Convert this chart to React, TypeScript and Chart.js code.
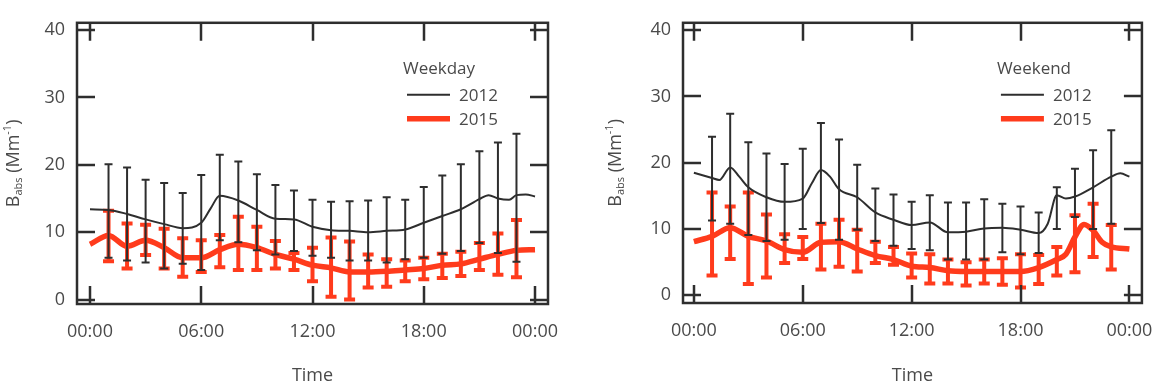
import React, { useEffect, useRef } from "react";
import { Chart, registerables } from "chart.js";

Chart.register(...registerables);

// ---------- shared axis values ----------
const hourTicks = [0, 6, 12, 18, 24];
const hourLabels = ["00:00", "06:00", "12:00", "18:00", "00:00"];
const valueTicks = [0, 10, 20, 30, 40];
const barHours = [1, 2, 3, 4, 5, 6, 7, 8, 9, 10, 11, 12, 13, 14, 15, 16, 17, 18, 19, 20, 21, 22, 23];

// ---------- weekday ----------
const weekdayHours2012 = [0, 1, 2, 3, 4, 5, 6, 6.5, 7, 8, 9, 10, 11, 12, 13, 14, 15, 16, 17, 18, 19, 20, 21, 21.5, 22, 22.6, 23, 23.5, 24];
const weekdayMean2012 = [13.4, 13.3, 12.7, 11.9, 11.2, 10.6, 11.4, 13.5, 15.4, 14.7, 13.3, 12.0, 11.9, 10.8, 10.3, 10.2, 10.0, 10.2, 10.4, 11.4, 12.4, 13.4, 14.9, 15.5, 15.0, 14.8, 15.5, 15.6, 15.3];
const weekdayHigh2012 = [20.1, 19.6, 17.8, 17.3, 15.8, 18.5, 21.5, 20.5, 18.6, 17.0, 16.2, 14.8, 14.5, 14.6, 14.7, 15.2, 14.8, 16.7, 18.4, 20.1, 22.0, 23.3, 24.6];
const weekdayLow2012 = [6.2, 5.8, 5.5, 4.6, 5.3, 4.4, 8.8, 8.5, 7.3, 6.7, 7.2, 6.5, 6.2, 5.8, 5.8, 5.5, 6.0, 6.2, 6.8, 7.2, 8.4, 6.9, 5.6];

const weekdayHours2015 = [0, 1, 2, 3, 4, 5, 6, 7, 8, 9, 10, 11, 12, 13, 14, 15, 16, 17, 18, 19, 20, 21, 22, 23, 24];
const weekdayMean2015 = [8.2, 9.5, 7.9, 8.8, 7.7, 6.2, 6.2, 7.4, 8.2, 7.7, 6.7, 6.0, 5.1, 4.7, 4.1, 4.1, 4.2, 4.4, 4.6, 5.1, 5.3, 6.0, 6.7, 7.3, 7.4];
const weekdayHigh2015 = [13.2, 11.3, 11.1, 10.5, 9.1, 8.8, 9.6, 12.3, 10.8, 8.7, 6.9, 7.7, 9.2, 8.6, 6.7, 6.0, 5.8, 6.2, 6.8, 7.1, 8.4, 9.8, 11.8];
const weekdayLow2015 = [5.7, 4.6, 6.6, 4.6, 3.4, 4.1, 4.8, 4.4, 4.4, 4.6, 4.4, 2.7, 0.4, 0.0, 1.8, 1.9, 2.7, 3.0, 3.2, 3.5, 4.4, 3.7, 3.3];

// ---------- weekend ----------
const weekendHours2012 = [0, 1, 1.4, 2, 2.5, 3, 4, 5, 6, 6.5, 7, 7.5, 8, 9, 10, 11, 12, 13, 14, 15, 16, 17, 18, 19, 19.5, 20, 20.5, 21, 22, 23, 23.5, 24];
const weekendMean2012 = [18.5, 17.7, 17.4, 19.3, 17.9, 16.3, 14.8, 14.1, 14.6, 16.9, 18.9, 17.9, 16.0, 14.8, 12.5, 11.4, 10.6, 11.0, 9.5, 9.6, 10.1, 10.2, 9.9, 9.4, 10.8, 15.1, 14.6, 14.9, 16.3, 17.9, 18.4, 17.9];
const weekendHigh2012 = [23.9, 27.4, 23.1, 21.4, 19.8, 22.1, 26.0, 23.5, 19.7, 16.1, 15.2, 14.1, 15.1, 14.0, 14.0, 14.5, 13.8, 13.4, 12.5, 16.3, 19.1, 21.9, 24.9];
const weekendLow2012 = [11.3, 10.8, 9.1, 8.2, 8.4, 10.0, 10.9, 8.4, 9.9, 8.2, 7.5, 7.0, 6.8, 5.4, 5.4, 5.4, 6.5, 6.2, 6.4, 10.0, 11.8, 10.0, 10.8];

const weekendHours2015 = [0, 1, 2, 3, 4, 5, 6, 7, 8, 9, 10, 11, 12, 13, 14, 15, 16, 17, 18, 19, 20, 20.5, 21, 21.5, 22, 22.5, 23, 24];
const weekendMean2015 = [8.1, 8.9, 10.2, 8.9, 8.2, 6.9, 6.5, 8.0, 8.1, 7.0, 6.0, 5.4, 4.4, 4.2, 3.7, 3.6, 3.6, 3.6, 3.6, 4.2, 5.4, 6.2, 8.8, 10.7, 9.8, 8.0, 7.3, 7.0];
const weekendHigh2015 = [15.5, 13.4, 15.5, 12.2, 9.2, 8.8, 10.8, 11.4, 9.9, 8.1, 7.3, 6.3, 6.2, 5.4, 5.0, 5.4, 5.6, 6.2, 6.1, 7.3, 12.1, 13.8, 10.6];
const weekendLow2015 = [3.0, 5.5, 1.7, 2.7, 4.9, 5.5, 3.9, 4.3, 3.6, 4.9, 4.6, 2.7, 1.8, 1.8, 1.5, 1.8, 1.6, 1.2, 1.7, 3.0, 3.5, 5.8, 3.9];

// ---------- styling ----------
const FONT = "'Open Sans', 'Noto Sans', sans-serif";
const TEXT = "#4a4a4a";
const INK = "#2e2e2e";
const RED = "#ff3b1c";

type Bars = { high: number[]; low: number[]; color: string; width: number; cap: number };

type Panel = {
  title: string;
  hours2012: number[];
  mean2012: number[];
  hours2015: number[];
  mean2015: number[];
  bars2012: Bars;
  bars2015: Bars;
  xMin: number;
  xMax: number;
  yMin: number;
  yMax: number;
  yAxisWidth: number;
  xAxisHeight: number;
  padRight: number;
  padTop: number;
  yTitleX: number;
};

const weekdayPanel: Panel = {
  title: "Weekday",
  hours2012: weekdayHours2012,
  mean2012: weekdayMean2012,
  hours2015: weekdayHours2015,
  mean2015: weekdayMean2015,
  bars2012: { high: weekdayHigh2012, low: weekdayLow2012, color: INK, width: 2, cap: 4 },
  bars2015: { high: weekdayHigh2015, low: weekdayLow2015, color: RED, width: 4, cap: 5.5 },
  xMin: -0.7,
  xMax: 24.7,
  yMin: -0.66,
  yMax: 41.08,
  yAxisWidth: 77,
  xAxisHeight: 86,
  padRight: 37,
  padTop: 7,
  yTitleX: 14,
};

const weekendPanel: Panel = {
  title: "Weekend",
  hours2012: weekendHours2012,
  mean2012: weekendMean2012,
  hours2015: weekendHours2015,
  mean2015: weekendMean2015,
  bars2012: { high: weekendHigh2012, low: weekendLow2012, color: INK, width: 2, cap: 4 },
  bars2015: { high: weekendHigh2015, low: weekendLow2015, color: RED, width: 4, cap: 5.5 },
  xMin: -0.6,
  xMax: 24.69,
  yMin: -1.15,
  yMax: 41.1,
  yAxisWidth: 98,
  xAxisHeight: 87,
  padRight: 24,
  padTop: 7,
  yTitleX: 31,
};

function drawErrorBars(chart: any, bars: Bars) {
  const { ctx, scales } = chart;
  const xs = scales.x;
  const ys = scales.y;
  ctx.save();
  ctx.strokeStyle = bars.color;
  ctx.lineWidth = bars.width;
  ctx.lineCap = "butt";
  barHours.forEach((h, i) => {
    const x = xs.getPixelForValue(h);
    const yHi = ys.getPixelForValue(bars.high[i]);
    const yLo = ys.getPixelForValue(bars.low[i]);
    ctx.beginPath();
    ctx.moveTo(x, yHi);
    ctx.lineTo(x, yLo);
    ctx.moveTo(x - bars.cap, yHi);
    ctx.lineTo(x + bars.cap, yHi);
    ctx.moveTo(x - bars.cap, yLo);
    ctx.lineTo(x + bars.cap, yLo);
    ctx.stroke();
  });
  ctx.restore();
}

const panelDecor = {
  id: "panelDecor",
  afterDatasetDraw(chart: any, args: any) {
    const panel: Panel = chart.options.plugins.panelDecor.panel;
    drawErrorBars(chart, args.index === 0 ? panel.bars2012 : panel.bars2015);
  },
  afterDraw(chart: any) {
    const panel: Panel = chart.options.plugins.panelDecor.panel;
    const { ctx, chartArea, scales } = chart;
    const { left, right, top, bottom } = chartArea;
    const tickLen = 18;

    ctx.save();
    // frame
    ctx.strokeStyle = INK;
    ctx.lineWidth = 2.5;
    ctx.strokeRect(left, top, right - left, bottom - top);

    // inward ticks on all four sides
    ctx.beginPath();
    hourTicks.forEach((h) => {
      const x = Math.round(scales.x.getPixelForValue(h));
      ctx.moveTo(x, bottom);
      ctx.lineTo(x, bottom - tickLen);
      ctx.moveTo(x, top);
      ctx.lineTo(x, top + tickLen);
    });
    valueTicks.forEach((v) => {
      const y = Math.round(scales.y.getPixelForValue(v));
      ctx.moveTo(left, y);
      ctx.lineTo(left + tickLen, y);
      ctx.moveTo(right, y);
      ctx.lineTo(right - tickLen, y);
    });
    ctx.stroke();

    // legend
    ctx.fillStyle = TEXT;
    ctx.textBaseline = "middle";
    ctx.textAlign = "left";
    ctx.font = `17px ${FONT}`;
    ctx.fillText(panel.title, right - 145, top + 46);
    ctx.beginPath();
    ctx.strokeStyle = INK;
    ctx.lineWidth = 2;
    ctx.moveTo(right - 141, top + 72);
    ctx.lineTo(right - 98, top + 72);
    ctx.stroke();
    ctx.beginPath();
    ctx.strokeStyle = RED;
    ctx.lineWidth = 5.5;
    ctx.moveTo(right - 141, top + 96);
    ctx.lineTo(right - 98, top + 96);
    ctx.stroke();
    ctx.fillText(chart.data.datasets[0].label, right - 89, top + 73);
    ctx.fillText(chart.data.datasets[1].label, right - 89, top + 97);

    // y axis title with sub- and superscript
    const parts = [
      { t: "B", size: 18, dy: 0 },
      { t: "abs", size: 11, dy: 5 },
      { t: " (Mm", size: 18, dy: 0 },
      { t: "-1", size: 11, dy: -6 },
      { t: ")", size: 18, dy: 0 },
    ];
    let total = 0;
    parts.forEach((p) => {
      ctx.font = `${p.size}px ${FONT}`;
      total += ctx.measureText(p.t).width;
    });
    ctx.translate(panel.yTitleX, (top + bottom) / 2);
    ctx.rotate(-Math.PI / 2);
    let cx = -total / 2;
    ctx.textAlign = "left";
    ctx.textBaseline = "middle";
    parts.forEach((p) => {
      ctx.font = `${p.size}px ${FONT}`;
      ctx.fillText(p.t, cx, p.dy);
      cx += ctx.measureText(p.t).width;
    });
    ctx.restore();
  },
};

function buildChart(canvas: HTMLCanvasElement, panel: Panel) {
  return new Chart(canvas, {
    type: "line",
    data: {
      datasets: [
        {
          label: "2012",
          data: panel.hours2012.map((h, i) => ({ x: h, y: panel.mean2012[i] })),
          borderColor: INK,
          borderWidth: 2,
          pointRadius: 0,
          cubicInterpolationMode: "monotone",
          fill: false,
        },
        {
          label: "2015",
          data: panel.hours2015.map((h, i) => ({ x: h, y: panel.mean2015[i] })),
          borderColor: RED,
          borderWidth: 5.5,
          pointRadius: 0,
          cubicInterpolationMode: "monotone",
          fill: false,
        },
      ],
    },
    options: {
      animation: false,
      responsive: false,
      events: [],
      layout: { padding: { left: 0, right: panel.padRight, top: panel.padTop, bottom: 0 } },
      plugins: {
        legend: { display: false },
        tooltip: { enabled: false },
        panelDecor: { panel },
      } as any,
      scales: {
        x: {
          type: "linear",
          min: panel.xMin,
          max: panel.xMax,
          afterBuildTicks: (s: any) => {
            s.ticks = hourTicks.map((v) => ({ value: v }));
          },
          afterFit: (s: any) => {
            s.height = panel.xAxisHeight;
          },
          grid: { display: false, drawTicks: false },
          border: { display: false },
          ticks: {
            callback: (_v: any, i: number) => hourLabels[i],
            color: TEXT,
            font: { family: FONT, size: 18 },
            padding: 17,
            maxRotation: 0,
            autoSkip: false,
          },
          title: {
            display: true,
            text: "Time",
            color: TEXT,
            font: { family: FONT, size: 18 },
            padding: { top: 0, bottom: 3 },
          },
        },
        y: {
          type: "linear",
          min: panel.yMin,
          max: panel.yMax,
          afterBuildTicks: (s: any) => {
            s.ticks = valueTicks.map((v) => ({ value: v }));
          },
          afterFit: (s: any) => {
            s.width = panel.yAxisWidth;
          },
          grid: { display: false, drawTicks: false },
          border: { display: false },
          ticks: {
            color: TEXT,
            font: { family: FONT, size: 18 },
            padding: 12,
          },
        },
      },
    } as any,
    plugins: [panelDecor],
  });
}

function PanelChart({ panel, left }: { panel: Panel; left: number }) {
  const ref = useRef<HTMLCanvasElement | null>(null);
  useEffect(() => {
    if (!ref.current) return;
    const chart = buildChart(ref.current, panel);
    return () => chart.destroy();
  }, [panel]);
  return (
    <canvas
      ref={ref}
      width={585}
      height={390}
      style={{ position: "absolute", left, top: 0, width: 585, height: 390 }}
    />
  );
}

export default function App() {
  return (
    <div
      style={{
        position: "absolute",
        left: 0,
        top: 0,
        width: 1170,
        height: 390,
        background: "#ffffff",
        overflow: "hidden",
      }}
    >
      <PanelChart panel={weekdayPanel} left={0} />
      <PanelChart panel={weekendPanel} left={585} />
    </div>
  );
}
